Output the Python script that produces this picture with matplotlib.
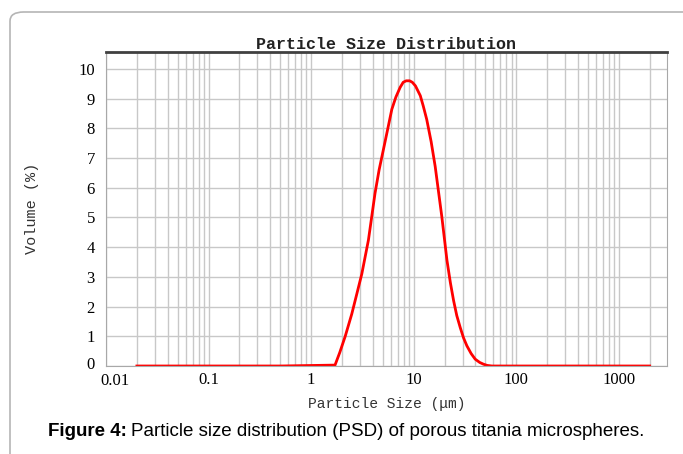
import matplotlib.pyplot as plt
import matplotlib.transforms as mtransforms
from matplotlib.patches import FancyBboxPatch

# particle size (um) and volume (%)
size_um = [0.02, 0.5, 1.71, 1.9, 2.15, 2.49, 2.8, 3.12, 3.62, 4.2, 4.6, 5.07,
           5.6, 6.12, 6.7, 7.38, 7.9, 8.45, 9.13, 9.7, 10.4, 11.6, 12.4, 13.4,
           14.8, 16.2, 18.8, 21.1, 22.8, 24.5, 26.3, 28.4, 30.6, 33.0, 36.3,
           39.8, 44.0, 48.0, 52.0, 58.0, 500.0, 2000.0]
volume = [0.0, 0.0, 0.03, 0.45, 1.0, 1.75, 2.45, 3.1, 4.24, 5.82, 6.6, 7.29,
          8.0, 8.64, 9.05, 9.38, 9.55, 9.6, 9.6, 9.55, 9.43, 9.1, 8.75, 8.3,
          7.55, 6.72, 5.03, 3.56, 2.8, 2.2, 1.7, 1.3, 0.95, 0.68, 0.42,
          0.23, 0.12, 0.06, 0.02, 0.0, 0.0, 0.0]
xticks = [0.01, 0.1, 1, 10, 100, 1000]
xtick_labels = ["0.01", "0.1", "1", "10", "100", "1000"]
yticks = list(range(0, 11))

fig = plt.figure(figsize=(6.83, 4.54), dpi=100)

# outer rounded frame (only top-left corner visible)
frame = FancyBboxPatch((10 / 683, -0.2), 1.2, 0.2 + 1 - 12 / 454,
                       boxstyle="round,pad=0,rounding_size=0.02",
                       transform=fig.transFigure, fill=False,
                       edgecolor="#b5b5b5", lw=1.2, clip_on=False)
fig.patches.append(frame)

ax = fig.add_axes([106 / 683, 1 - 366 / 454, (667 - 106) / 683, (366 - 52) / 454])
ax.set_xscale("log")
ax.set_xlim(0.01, 2950)
ax.set_ylim(0, 10.57)

ax.grid(True, which="both", axis="x", color="#c8c8c8", lw=1)
ax.grid(True, which="major", axis="y", color="#c8c8c8", lw=1)
ax.set_axisbelow(True)

ax.plot(size_um, volume, color="#ff0000", lw=2, solid_joinstyle="round")

ax.set_xticks(xticks)
ax.set_xticklabels(xtick_labels, family="Liberation Serif", fontsize=12)
ax.set_yticks(yticks)
ax.set_yticklabels([str(v) for v in yticks], family="Liberation Serif", fontsize=12)
ax.minorticks_on()
ax.tick_params(which="both", length=0)
ax.tick_params(axis="x", pad=4)
ax.tick_params(axis="y", pad=8)

# nudge the first x label right so it clears the y "0"
first = ax.get_xticklabels()[0]
first.set_transform(first.get_transform() +
                    mtransforms.ScaledTranslation(9 / 100, -1 / 100, fig.dpi_scale_trans))
ylab0 = ax.get_yticklabels()[0]
ylab0.set_transform(ylab0.get_transform() +
                    mtransforms.ScaledTranslation(0, 3 / 100, fig.dpi_scale_trans))

for side in ["left", "bottom", "right"]:
    ax.spines[side].set_color("#a8a8a8")
ax.spines["top"].set_color("#404040")
ax.spines["top"].set_linewidth(2)

ax.text(0.5, 1.0, "Particle Size Distribution", transform=ax.transAxes,
        ha="center", va="bottom", family="Liberation Mono", fontsize=12,
        weight="bold", color="#222222")
ax.set_xlabel("Particle Size (μm)", family="Liberation Mono", fontsize=10.5,
              color="#333333", labelpad=6)
fig.text(32 / 683, 1 - 208 / 454, "Volume (%)", rotation=90, ha="center",
         va="center", family="Liberation Mono", fontsize=11, color="#333333")

# caption: bold lead-in followed by regular text
cap_y = 1 - 432 / 454
t1 = fig.text(48 / 683, cap_y, "Figure 4:", ha="left", va="center",
              family="Liberation Sans", weight="bold", fontsize=13.5)
fig.canvas.draw()
bb = t1.get_window_extent()
fig.text(bb.x1 / fig.bbox.width + 4 / 683, cap_y,
         "Particle size distribution (PSD) of porous titania microspheres.",
         ha="left", va="center", family="Liberation Sans", fontsize=13.5)

fig.savefig("out.png", dpi=100)
